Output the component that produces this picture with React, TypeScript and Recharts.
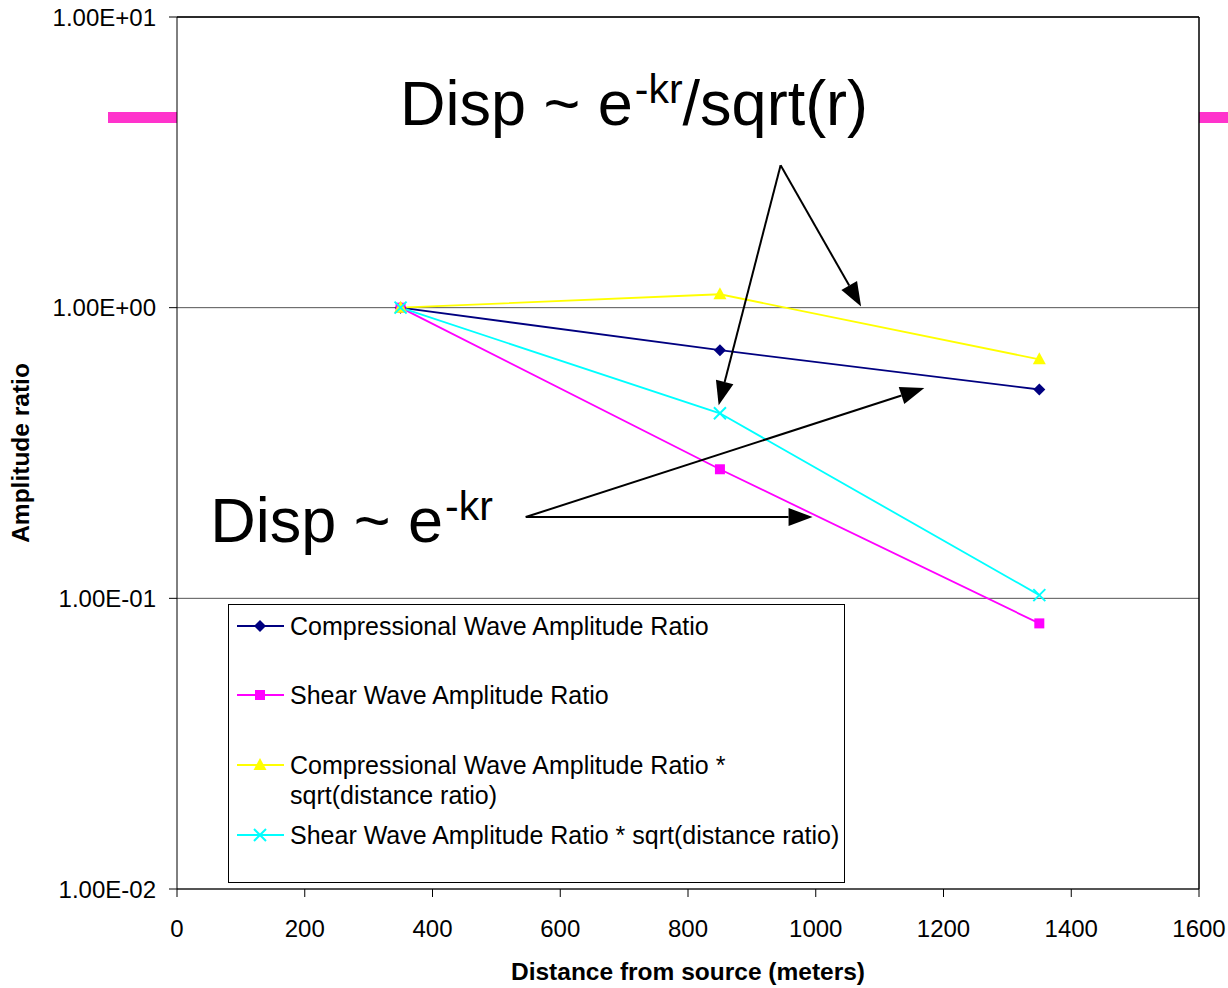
import { CartesianGrid, Legend, Line, LineChart, ReferenceDot, ReferenceLine, XAxis, YAxis } from 'recharts';

// distances from source (m) and amplitude ratios for each series
const distances = [350, 850, 1350];
const compressional = [1, 0.714, 0.523];
const shear = [1, 0.278, 0.082];
const compressionalSqrt = [1, 1.112, 0.664];
const shearSqrt = [1, 0.433, 0.1026];

const xTicks = [0, 200, 400, 600, 800, 1000, 1200, 1400, 1600];
const yTicks = [0.01, 0.1, 1, 10];

// annotation arrows, in data units: [fromX, fromY, toX, toY]
const cylindricalArrows = [
  [945, 3.09, 848, 0.462],
  [945, 3.09, 1071, 1.01],
];
const planeArrows = [
  [546, 0.1904, 1170, 0.529],
  [546, 0.1904, 995, 0.1904],
];

const FONT = '"Liberation Sans", Arial, sans-serif';

const chartData = distances.map((d, i) => ({
  distance: d,
  compressional: compressional[i],
  shear: shear[i],
  compressionalSqrt: compressionalSqrt[i],
  shearSqrt: shearSqrt[i],
}));

const sci = (v: number): string => {
  const [mant, exp] = v.toExponential(2).split('e');
  const sign = exp.startsWith('-') ? '-' : '+';
  const digits = exp.replace(/[+-]/, '').padStart(2, '0');
  return `${mant}E${sign}${digits}`;
};

type DotProps = { cx?: number; cy?: number };

const Diamond = ({ cx = 0, cy = 0 }: DotProps) => (
  <polygon points={`${cx},${cy - 6} ${cx + 6},${cy} ${cx},${cy + 6} ${cx - 6},${cy}`} fill="#000080" />
);
const Square = ({ cx = 0, cy = 0 }: DotProps) => (
  <rect x={cx - 5} y={cy - 5} width={10} height={10} fill="#ff00ff" />
);
const Triangle = ({ cx = 0, cy = 0 }: DotProps) => (
  <polygon points={`${cx},${cy - 7} ${cx + 6.5},${cy + 5} ${cx - 6.5},${cy + 5}`} fill="#ffff00" />
);
const Cross = ({ cx = 0, cy = 0 }: DotProps) => (
  <g stroke="#00ffff" strokeWidth={2}>
    <line x1={cx - 6} y1={cy - 6} x2={cx + 6} y2={cy + 6} />
    <line x1={cx - 6} y1={cy + 6} x2={cx + 6} y2={cy - 6} />
  </g>
);

const series = [
  { key: 'compressional', name: 'Compressional Wave Amplitude Ratio', color: '#000080', Mark: Diamond },
  { key: 'shear', name: 'Shear Wave Amplitude Ratio', color: '#ff00ff', Mark: Square },
  {
    key: 'compressionalSqrt',
    name: 'Compressional Wave Amplitude Ratio * sqrt(distance ratio)',
    color: '#ffff00',
    Mark: Triangle,
  },
  { key: 'shearSqrt', name: 'Shear Wave Amplitude Ratio * sqrt(distance ratio)', color: '#00ffff', Mark: Cross },
];

const Arrow = (props: any) => {
  const { x1, y1, x2, y2 } = props;
  const len = Math.hypot(x2 - x1, y2 - y1);
  const ux = (x2 - x1) / len;
  const uy = (y2 - y1) / len;
  const head = 24;
  const half = 9;
  const bx = x2 - ux * head;
  const by = y2 - uy * head;
  return (
    <g>
      <line x1={x1} y1={y1} x2={bx} y2={by} stroke="#000" strokeWidth={2} />
      <polygon
        points={`${x2},${y2} ${bx - uy * half},${by + ux * half} ${bx + uy * half},${by - ux * half}`}
        fill="#000"
      />
    </g>
  );
};

const Formula = ({ cx = 0, cy = 0, tail }: DotProps & { tail: string }) => (
  <text x={cx} y={cy} fontFamily={FONT} fontSize={63} fill="#000">
    Disp ~ e
    <tspan dx={2} dy={-22} fontSize={41}>
      -kr
    </tspan>
    {tail && (
      <tspan dy={22} fontSize={63}>
        {tail}
      </tspan>
    )}
  </text>
);

const legendRows = [21, 90, 160, 230];

const LegendBox = () => (
  <svg width={617} height={279} style={{ display: 'block' }}>
    {series.map((s, i) => {
      const y = legendRows[i];
      const lines = i === 2 ? ['Compressional Wave Amplitude Ratio *', 'sqrt(distance ratio)'] : [s.name];
      return (
        <g key={s.key}>
          <line x1={8} y1={y} x2={55} y2={y} stroke={s.color} strokeWidth={2} />
          <s.Mark cx={31} cy={y} />
          <text x={61} y={y + 8.5} fontFamily={FONT} fontSize={25} fill="#000">
            {lines.map((t, j) => (
              <tspan key={j} x={61} dy={j === 0 ? 0 : 30}>
                {t}
              </tspan>
            ))}
          </text>
        </g>
      );
    })}
  </svg>
);

export default function App() {
  return (
    <div style={{ position: 'absolute', left: 0, top: 0, width: 1228, height: 988, background: '#fff' }}>
      <div style={{ position: 'absolute', left: 108, top: 112, width: 1120, height: 11, background: '#ff33cc' }} />
      <div style={{ position: 'absolute', left: 0, top: 0 }}>
        <LineChart width={1228} height={988} data={chartData} margin={{ top: 17, right: 29, bottom: 0, left: 0 }}>
          <CartesianGrid vertical={false} stroke="#555" fill="#fff" fillOpacity={1} />
          <XAxis
            type="number"
            dataKey="distance"
            domain={[0, 1600]}
            ticks={xTicks}
            interval={0}
            height={99}
            stroke="#000"
            tickSize={8}
            tickMargin={23}
            tick={{ fill: '#000', fontSize: 24, fontFamily: FONT }}
            label={{
              content: ({ viewBox }: any) => (
                <text
                  x={viewBox.x + viewBox.width / 2}
                  y={viewBox.y + 91}
                  textAnchor="middle"
                  fontFamily={FONT}
                  fontSize={24.5}
                  fontWeight="bold"
                  fill="#000"
                >
                  Distance from source (meters)
                </text>
              ),
            }}
          />
          <YAxis
            scale="log"
            domain={[0.01, 10]}
            ticks={yTicks}
            interval={0}
            allowDataOverflow
            width={177}
            stroke="#000"
            tickSize={8}
            tickMargin={13}
            tickFormatter={sci}
            tick={{ fill: '#000', fontSize: 24, fontFamily: FONT }}
            label={{
              content: ({ viewBox }: any) => {
                const cy = viewBox.y + viewBox.height / 2;
                return (
                  <text
                    x={29}
                    y={cy}
                    transform={`rotate(-90, 29, ${cy})`}
                    textAnchor="middle"
                    fontFamily={FONT}
                    fontSize={24.5}
                    fontWeight="bold"
                    fill="#000"
                  >
                    Amplitude ratio
                  </text>
                );
              },
            }}
          />
          <ReferenceLine y={10} stroke="#000" strokeWidth={1.5} ifOverflow="visible" />
          <ReferenceLine x={1600} stroke="#000" strokeWidth={1.5} ifOverflow="visible" />
          {series.map((s) => (
            <Line
              key={s.key}
              type="linear"
              dataKey={s.key}
              name={s.name}
              stroke={s.color}
              strokeWidth={1.8}
              dot={(p: any) => <s.Mark key={`${s.key}-${p.index}`} cx={p.cx} cy={p.cy} />}
              activeDot={false}
              isAnimationActive={false}
            />
          ))}
          {[...cylindricalArrows, ...planeArrows].map(([x1, y1, x2, y2], i) => (
            <ReferenceLine
              key={`arrow-${i}`}
              segment={[
                { x: x1, y: y1 },
                { x: x2, y: y2 },
              ]}
              ifOverflow="visible"
              shape={Arrow}
            />
          ))}
          <ReferenceDot x={349} y={4.24} ifOverflow="visible" shape={(p: any) => <Formula cx={p.cx} cy={p.cy} tail="/sqrt(r)" />} />
          <ReferenceDot x={52} y={0.1566} ifOverflow="visible" shape={(p: any) => <Formula cx={p.cx} cy={p.cy} tail="" />} />
          <Legend
            layout="vertical"
            align="center"
            verticalAlign="middle"
            content={() => <LegendBox />}
            wrapperStyle={{
              left: 228,
              top: 604,
              width: 617,
              height: 279,
              border: '1px solid #000',
              background: '#fff',
              boxSizing: 'border-box',
            }}
          />
        </LineChart>
      </div>
    </div>
  );
}
